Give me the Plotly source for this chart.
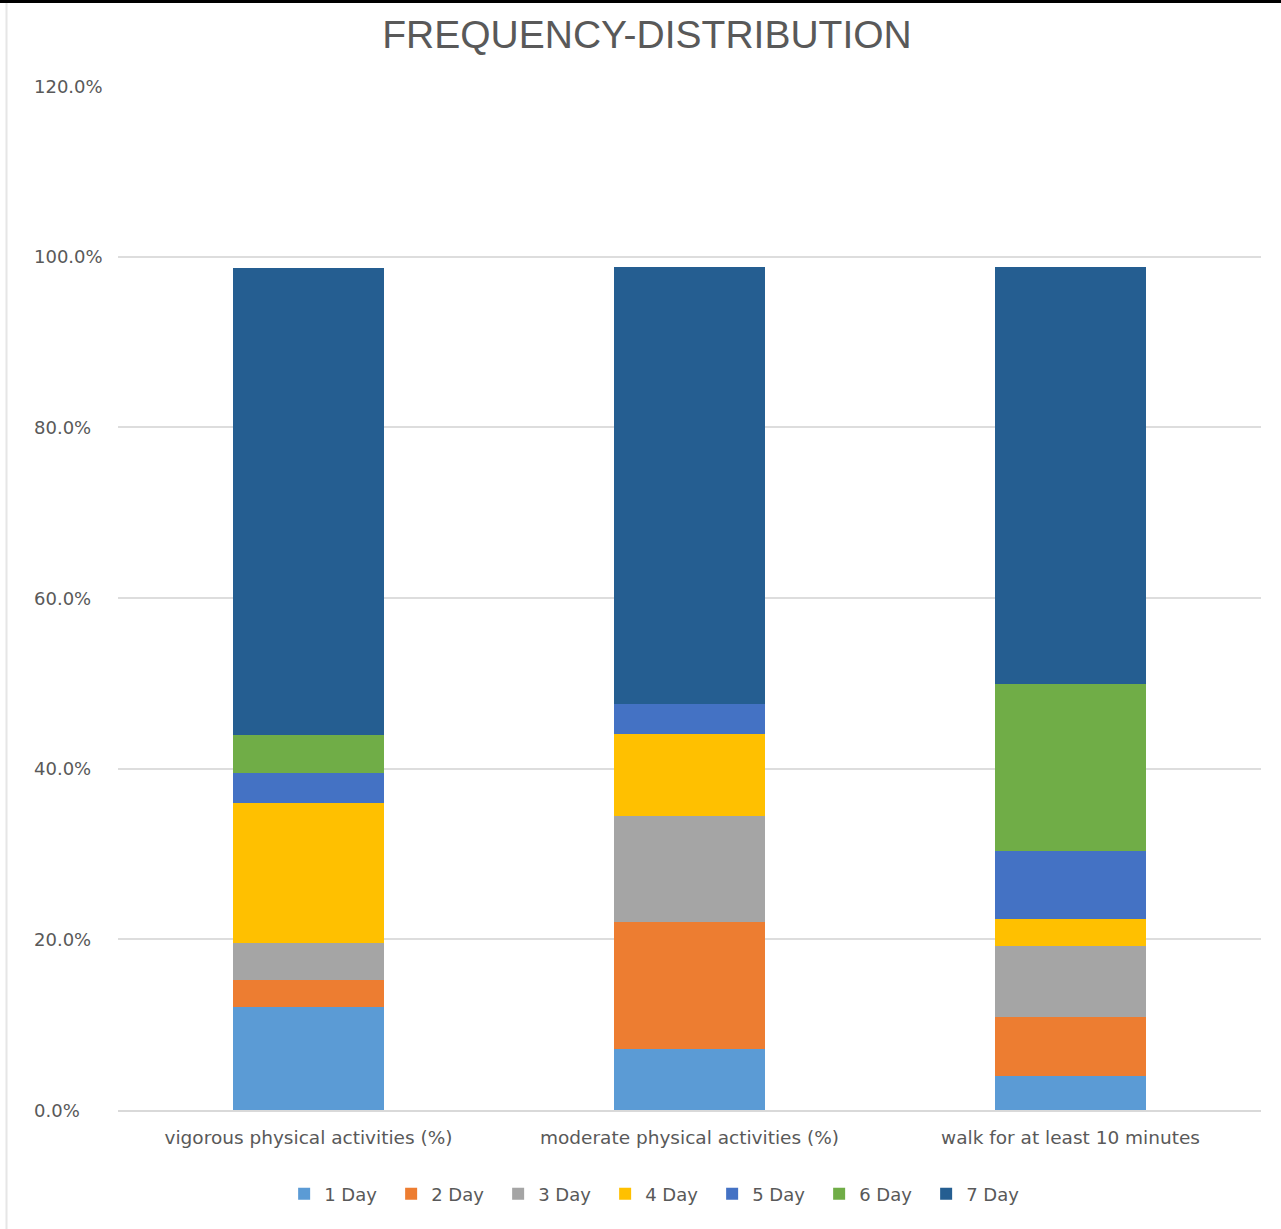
import plotly.graph_objects as go

# Survey categories (x axis)
categories = [
    "vigorous physical activities (%)",
    "moderate physical activities (%)",
    "walk for at least 10 minutes",
]

# Share of respondents by number of active days per week (%)
day_labels = ["1 Day", "2 Day", "3 Day", "4 Day", "5 Day", "6 Day", "7 Day"]
day_1 = [12.1, 7.2, 4.0]
day_2 = [3.1, 14.8, 6.9]
day_3 = [4.4, 12.4, 8.3]
day_4 = [16.4, 9.7, 3.2]
day_5 = [3.5, 3.5, 8.0]
day_6 = [4.5, 0.0, 19.5]
day_7 = [54.7, 51.2, 48.9]

series_values = [day_1, day_2, day_3, day_4, day_5, day_6, day_7]
series_colors = ["#5B9BD5", "#ED7D31", "#A5A5A5", "#FFC000",
                 "#4472C4", "#70AD47", "#255E91"]

# Y axis tick positions and labels
y_ticks = [0, 20, 40, 60, 80, 100, 120]
y_tick_labels = [f"{v:.1f}%" for v in y_ticks]

TEXT = "#595959"
FONT = "DejaVu Sans"

fig = go.Figure()
for name, vals, col in zip(day_labels, series_values, series_colors):
    fig.add_trace(go.Bar(
        name=name, x=categories, y=vals,
        marker=dict(color=col, line=dict(width=0)),
    ))

# plot area geometry in pixels
W, H = 1281, 1229
L, R, T, B = 118, 20, 86, 119
pw, ph = W - L - R, H - T - B

def px_x(x):
    return (x - L) / pw

def px_y(y):
    return (H - B - y) / ph

# left-aligned percentage labels for the value axis
tick_annotations = [
    dict(x=px_x(32), xref="paper", xanchor="left",
         y=v, yref="y", yanchor="middle",
         text=t, showarrow=False,
         font=dict(family=FONT, size=18, color=TEXT))
    for v, t in zip(y_ticks, y_tick_labels)
]

fig.update_layout(
    width=W, height=H,
    barmode="stack",
    bargap=0.604,
    plot_bgcolor="white",
    paper_bgcolor="white",
    margin=dict(l=L, r=R, t=T, b=B),
    title=dict(
        text="FREQUENCY-DISTRIBUTION",
        x=647 / W, xanchor="center",
        y=1 - 34 / H, yanchor="middle",
        font=dict(family="Liberation Sans, Arial, sans-serif",
                  size=39, color=TEXT),
    ),
    font=dict(family=FONT, size=15, color=TEXT),
    legend=dict(
        orientation="h",
        x=0.473, xanchor="center",
        y=px_y(1194), yanchor="middle",
        font=dict(family=FONT, size=18, color=TEXT),
        traceorder="normal",
        entrywidth=62,
        itemwidth=30,
    ),
    xaxis=dict(
        showgrid=False,
        showline=True, linecolor="#D9D9D9", linewidth=2,
        ticks="",
        tickfont=dict(family=FONT, size=18.5, color=TEXT),
        ticklabelstandoff=10,
    ),
    yaxis=dict(
        range=[0, 120],
        tickvals=y_ticks,
        showticklabels=False,
        showgrid=True, gridcolor="#DDDDDD", gridwidth=2,
        zeroline=False, showline=False,
        ticks="",
    ),
    annotations=tick_annotations,
    shapes=[
        # thin frame edges around the chart image
        dict(type="rect", xref="paper", yref="paper",
             x0=px_x(0), x1=px_x(W), y0=px_y(3), y1=px_y(0),
             fillcolor="black", line=dict(width=0), layer="above"),
        dict(type="line", xref="paper", yref="paper",
             x0=px_x(6.5), x1=px_x(6.5), y0=px_y(H), y1=px_y(3),
             line=dict(color="#E6E6E6", width=2), layer="above"),
    ],
)

fig.write_html("out.html")
